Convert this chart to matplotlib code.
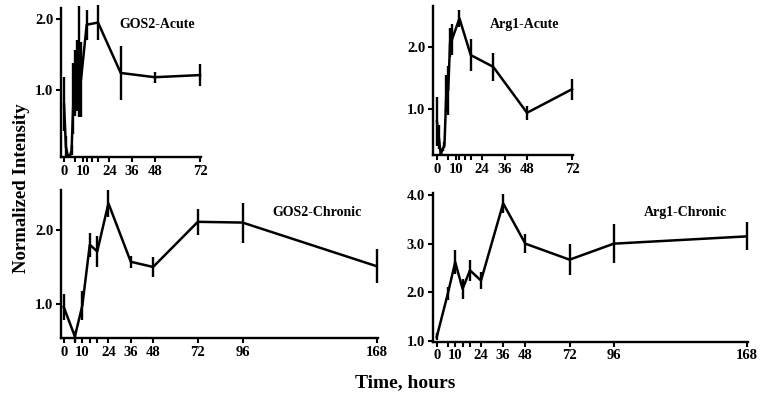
import matplotlib
matplotlib.use("Agg")
import matplotlib.pyplot as plt

# ---- data ----
gos2_acute_t = [0, 1, 2, 3, 4, 5, 6, 7, 8, 9, 12, 18, 30, 48, 72]
gos2_acute_v = [0.80, 0.20, 0.07, 0.06, 0.15, 0.88, 1.10, 1.20, 1.40, 1.15, 1.92, 1.95, 1.24, 1.18, 1.21]
gos2_acute_e = [0.38, 0.15, 0.03, 0.02, 0.07, 0.50, 0.47, 0.50, 0.78, 0.53, 0.21, 0.25, 0.38, 0.08, 0.15]

arg1_acute_t = [0, 1, 2, 3, 4, 5, 6, 7, 8, 12, 18, 30, 48, 72]
arg1_acute_v = [0.80, 0.55, 0.27, 0.35, 0.42, 1.25, 1.30, 2.07, 2.12, 2.46, 1.87, 1.68, 0.94, 1.32]
arg1_acute_e = [0.40, 0.20, 0.03, 0.03, 0.05, 0.30, 0.40, 0.23, 0.25, 0.14, 0.26, 0.23, 0.11, 0.17]

chronic_t = [0, 6, 10, 14, 18, 24, 36, 48, 72, 96, 168]
gos2_chronic_v = [0.96, 0.56, 0.98, 1.80, 1.71, 2.36, 1.57, 1.50, 2.11, 2.10, 1.51]
gos2_chronic_e = [0.17, 0.07, 0.20, 0.16, 0.21, 0.18, 0.08, 0.14, 0.18, 0.27, 0.23]
arg1_chronic_v = [1.08, 1.97, 2.62, 2.07, 2.45, 2.24, 3.83, 3.00, 2.67, 3.00, 3.15]
arg1_chronic_e = [0.07, 0.14, 0.24, 0.20, 0.22, 0.18, 0.19, 0.20, 0.32, 0.40, 0.29]

acute_ticks = [0, 6, 10, 12, 15, 18, 24, 36, 48, 72]
acute_labels = ['0', '', '10', '', '', '', '24', '36', '48', '72']
chronic_ticks = [0, 6, 10, 14, 18, 24, 36, 48, 72, 96, 168]
chronic_labels = ['0', '', '10', '', '', '24', '36', '48', '72', '96', '168']

plt.rcParams['font.family'] = ['Liberation Serif', 'DejaVu Serif']
plt.rcParams['font.weight'] = 'bold'

fig = plt.figure(figsize=(7.62, 4.03), dpi=100)


def panel(rect, t, v, e, xlim, ylim, yticks, xticks, xlabels, title, title_xy):
    ax = fig.add_axes(rect)
    ax.errorbar(t, v, yerr=e, color='black', lw=1.8, elinewidth=1.7, capsize=0,
                clip_on=False)
    ax.set_xlim(*xlim)
    ax.set_ylim(*ylim)
    ax.set_xticks(xticks)
    ax.set_xticklabels(xlabels)
    ax.set_yticks(yticks)
    ax.set_yticklabels([f"{y:.1f}" for y in yticks])
    for s in ['top', 'right']:
        ax.spines[s].set_visible(False)
    for s in ['left', 'bottom']:
        ax.spines[s].set_linewidth(1.7)
    ax.tick_params(axis='both', direction='out', length=3.5, width=1.5,
                   labelsize=10.5, pad=2)
    for lab in ax.get_xticklabels() + ax.get_yticklabels():
        lab.set_fontweight('bold')
    ax.text(title_xy[0], title_xy[1], title, transform=ax.transAxes,
            ha='center', va='center', fontsize=10, fontweight='bold')
    return ax


panel([61/762, 1-157/403, 140/762, 149/403], gos2_acute_t, gos2_acute_v, gos2_acute_e,
      (-1.6, 72.5), (0.056, 2.155), [1.0, 2.0], acute_ticks, acute_labels,
      'GOS2-Acute', ((157-61)/140, (157-25)/149))
panel([433/762, 1-155/403, 140/762, 149/403], arg1_acute_t, arg1_acute_v, arg1_acute_e,
      (-2.1, 72.5), (0.26, 2.66), [1.0, 2.0], acute_ticks, acute_labels,
      'Arg1-Acute', ((525-433)/140, (155-25)/149))
panel([61/762, 1-338/403, 317/762, 148/403], chronic_t, gos2_chronic_v, gos2_chronic_e,
      (-1.45, 168.7), (0.54, 2.54), [1.0, 2.0], chronic_ticks, chronic_labels,
      'GOS2-Chronic', ((317-61)/317, (338-213)/148))
panel([432.7/762, 1-341.7/403, 315.6/762, 149/403], chronic_t, arg1_chronic_v, arg1_chronic_e,
      (-2.2, 168.9), (0.98, 4.05), [1.0, 2.0, 3.0, 4.0], chronic_ticks, chronic_labels,
      'Arg1-Chronic', ((685-432.7)/315.6, (341.7-213)/149))

fig.text(22/762, 1-188/403, 'Normalized Intensity', rotation=90, ha='center', va='center',
         fontsize=13.5, fontweight='bold')
fig.text(405/762, 1-383/403, 'Time, hours', ha='center', va='center',
         fontsize=14, fontweight='bold')

fig.savefig('out.png', dpi=100)
